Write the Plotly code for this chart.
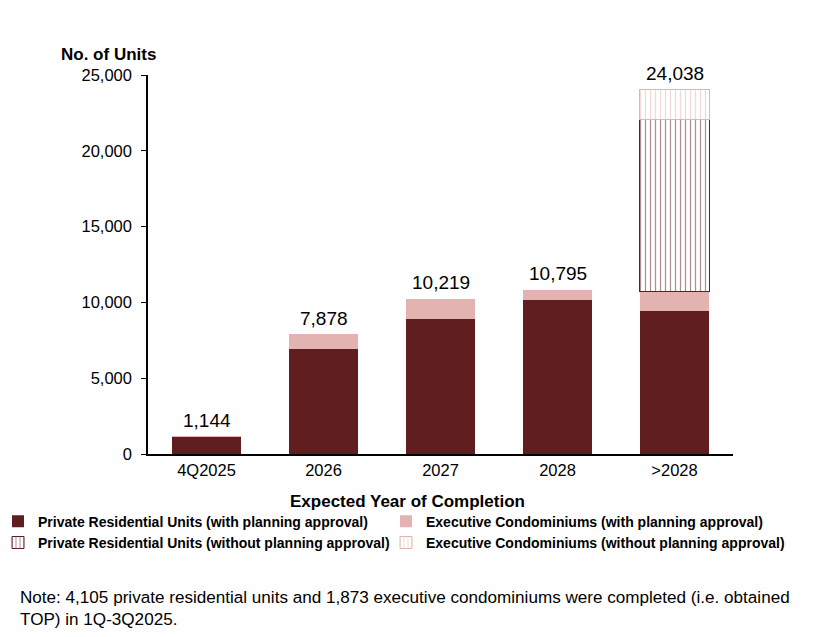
import plotly.graph_objects as go

categories = ["4Q2025", "2026", "2027", "2028", ">2028"]
private_with = [1144, 6950, 8930, 10180, 9450]
ec_with = [0, 928, 1289, 615, 1280]
private_without = [0, 0, 0, 0, 11330]
ec_without = [0, 0, 0, 0, 1978]
y_ticks = [0, 5000, 10000, 15000, 20000, 25000]

MAROON = "#611e1e"
PINK = "#e3b3b1"
FONT = "Liberation Sans, Arial, sans-serif"

fig = go.Figure()
fig.add_bar(x=categories, y=private_with, name="Private Residential Units (with planning approval)",
            marker=dict(color=MAROON, line=dict(width=0)), legend="legend")
fig.add_bar(x=categories, y=ec_with, name="Executive Condominiums (with planning approval)",
            marker=dict(color=PINK, line=dict(width=0)), legend="legend2")
fig.add_bar(x=categories, y=private_without, name="Private Residential Units (without planning approval)",
            marker=dict(color="white", line=dict(color=MAROON, width=1),
                        pattern=dict(shape="|", fgcolor=MAROON, bgcolor="white", size=5, solidity=0.25)),
            legend="legend")
fig.add_bar(x=categories, y=ec_without, name="Executive Condominiums (without planning approval)",
            marker=dict(color="white", line=dict(color=PINK, width=1),
                        pattern=dict(shape="|", fgcolor=PINK, bgcolor="white", size=5, solidity=0.25)),
            legend="legend2")

totals = [a + b + c + d for a, b, c, d in zip(private_with, ec_with, private_without, ec_without)]
for i, tot in enumerate(totals):
    fig.add_annotation(x=i, y=tot, text=f"{tot:,}", showarrow=False, yanchor="bottom", yshift=4,
                       font=dict(size=19, color="black", family=FONT))

fig.add_annotation(xref="paper", yref="paper", x=0.017, y=1.055, xanchor="right", yanchor="middle",
                   text="<b>No. of Units</b>", showarrow=False, font=dict(size=17, color="black", family=FONT))
fig.add_annotation(xref="paper", yref="paper", x=(407 - 148) / 585, y=-(502 - 454.3) / 379,
                   xanchor="center", yanchor="middle", text="<b>Expected Year of Completion</b>",
                   showarrow=False, font=dict(size=17, color="black", family=FONT))
fig.add_annotation(xref="paper", yref="paper", x=-(148 - 18) / 585, y=-(586 - 454.3) / 379,
                   xanchor="left", yanchor="top", align="left",
                   text="Note: 4,105 private residential units and 1,873 executive condominiums were completed (i.e. obtained<br>TOP) in 1Q-3Q2025.",
                   showarrow=False, font=dict(size=17.1, color="black", family=FONT))

leg_common = dict(orientation="v", yanchor="top", xanchor="left", traceorder="normal",
                  font=dict(size=14, family=FONT, color="black", weight="bold"),
                  itemwidth=30, tracegroupgap=0, bgcolor="rgba(0,0,0,0)")
leg_y = -(506 - 454.3) / 379

fig.update_layout(
    width=814, height=637,
    margin=dict(l=148, r=81, t=75, b=183, autoexpand=False),
    paper_bgcolor="white", plot_bgcolor="white",
    barmode="stack", bargap=0.41,
    font=dict(family=FONT, color="black"),
    showlegend=True,
    legend=dict(x=-(148 + 2) / 585, y=leg_y, **leg_common),
    legend2=dict(x=(386 - 148) / 585, y=leg_y, **leg_common),
    xaxis=dict(type="category", showline=True, linecolor="black", linewidth=1.5, ticks="",
               tickfont=dict(size=16.5), showgrid=False),
    yaxis=dict(range=[0, 25000], tickvals=y_ticks, ticktext=[f"{v:,}" for v in y_ticks],
               showline=True, linecolor="black", linewidth=1.5, ticks="outside", ticklen=5,
               ticklabelstandoff=6,
               tickcolor="black", tickfont=dict(size=16.5), showgrid=False, zeroline=False),
)

fig.write_html("out.html")
